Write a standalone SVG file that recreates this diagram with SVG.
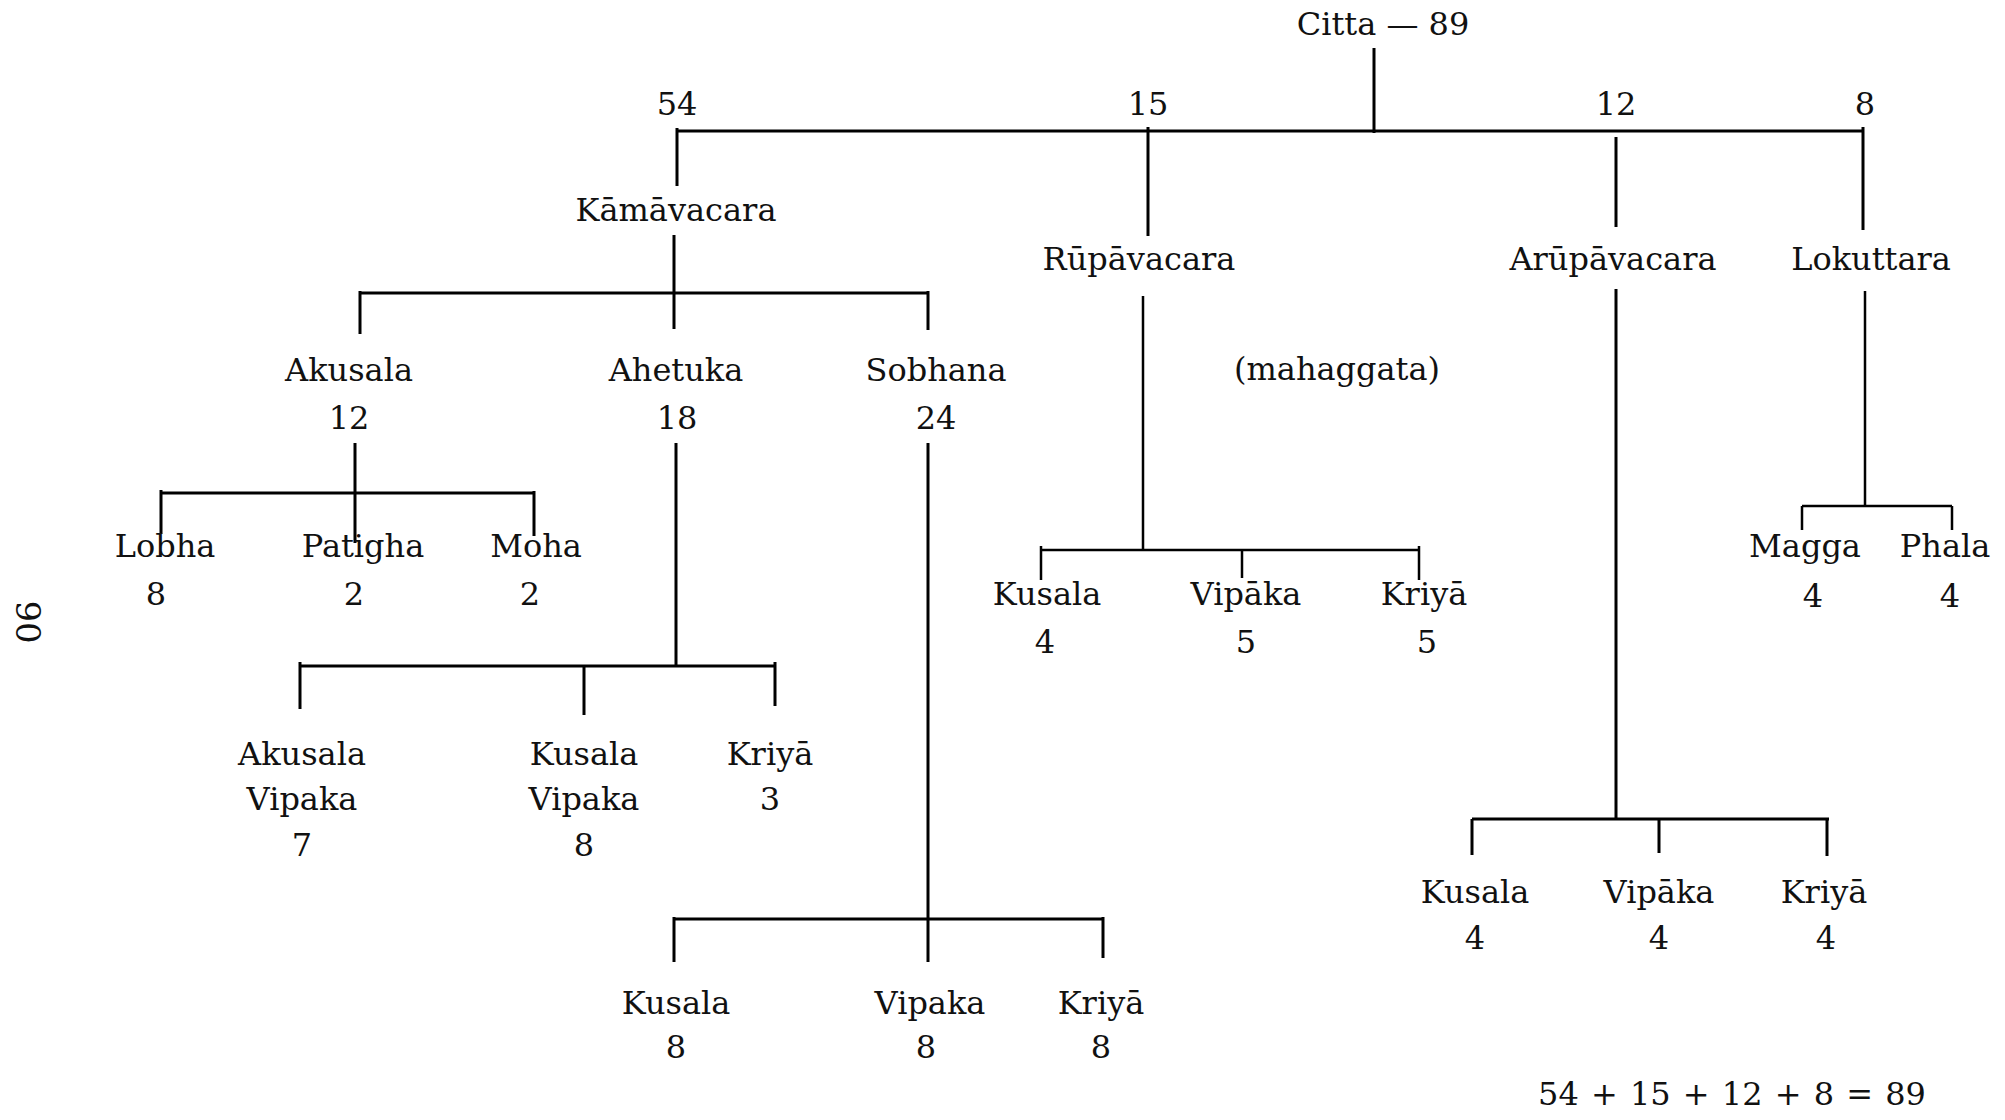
<svg xmlns="http://www.w3.org/2000/svg" width="2005" height="1120" viewBox="0 0 2005 1120">
<style>
text{font-family:"DejaVu Serif","Liberation Serif",serif;font-size:32px;fill:#111;text-anchor:middle}
.ln{stroke:#000;stroke-width:3;fill:none;stroke-linecap:butt}
.th{stroke-width:2.5}
</style>
<rect width="2005" height="1120" fill="#fff"/>
<g id="connectors">
<path class="ln" d="M1374,48V133M677,131H1863M677,128V186M1148,127V236M1616,137V227M1863,127V230"/>
<path class="ln" d="M674,235V329M360,293H928M360,291V334M928,291V330"/>
<path class="ln" d="M355,443V543M161,493H534M161,490V534M534,491V536"/>
<path class="ln" d="M676,443V666M300,666H775M300,662V709M584,666V715M775,662V706"/>
<path class="ln" d="M928,443V919M674,919H1103M674,917V962M928,919V962M1103,917V958"/>
<path class="ln th" d="M1143,296V550M1041,550H1419M1041,546V580M1242,550V578M1419,546V580"/>
<path class="ln" d="M1616,289V819M1472,819H1829M1472,819V855M1659,819V853M1827,819V856"/>
<path class="ln th" d="M1865,291V507M1802,506H1952M1802,506V530M1952,506V530"/>
</g>
<g id="citta"><text x="1383" y="35">Citta — 89</text></g>
<g id="n54"><text x="677" y="115">54</text></g>
<g id="n15"><text x="1148" y="115">15</text></g>
<g id="n12"><text x="1616" y="115">12</text></g>
<g id="n8"><text x="1865" y="115">8</text></g>
<g id="kamavacara"><text x="676" y="221">Kāmāvacara</text></g>
<g id="rupavacara"><text x="1139" y="270">Rūpāvacara</text></g>
<g id="arupavacara"><text x="1613" y="270">Arūpāvacara</text></g>
<g id="lokuttara"><text x="1871" y="270">Lokuttara</text></g>
<g id="mahaggata"><text x="1337" y="380">(mahaggata)</text></g>
<g id="akusala"><text x="349" y="381">Akusala</text><text x="349" y="429">12</text></g>
<g id="ahetuka"><text x="676" y="381">Ahetuka</text><text x="677" y="429">18</text></g>
<g id="sobhana"><text x="936" y="381">Sobhana</text><text x="936" y="429">24</text></g>
<g id="lobha"><text x="165" y="557">Lobha</text><text x="156" y="605">8</text></g>
<g id="patigha"><text x="363" y="557">Patigha</text><text x="354" y="605">2</text></g>
<g id="moha"><text x="536" y="557">Moha</text><text x="530" y="605">2</text></g>
<g id="ak-vipaka"><text x="302" y="765">Akusala</text><text x="302" y="810">Vipaka</text><text x="302" y="856">7</text></g>
<g id="ku-vipaka"><text x="584" y="765">Kusala</text><text x="584" y="810">Vipaka</text><text x="584" y="856">8</text></g>
<g id="ahetuka-kriya"><text x="770" y="765">Kriyā</text><text x="770" y="810">3</text></g>
<g id="sobhana-kusala"><text x="676" y="1014">Kusala</text><text x="676" y="1058">8</text></g>
<g id="sobhana-vipaka"><text x="930" y="1014">Vipaka</text><text x="926" y="1058">8</text></g>
<g id="sobhana-kriya"><text x="1101" y="1014">Kriyā</text><text x="1101" y="1058">8</text></g>
<g id="rupa-kusala"><text x="1047" y="605">Kusala</text><text x="1045" y="653">4</text></g>
<g id="rupa-vipaka"><text x="1246" y="605">Vipāka</text><text x="1246" y="653">5</text></g>
<g id="rupa-kriya"><text x="1424" y="605">Kriyā</text><text x="1427" y="653">5</text></g>
<g id="magga"><text x="1805" y="557">Magga</text><text x="1813" y="607">4</text></g>
<g id="phala"><text x="1945" y="557">Phala</text><text x="1950" y="607">4</text></g>
<g id="arupa-kusala"><text x="1475" y="903">Kusala</text><text x="1475" y="949">4</text></g>
<g id="arupa-vipaka"><text x="1659" y="903">Vipāka</text><text x="1659" y="949">4</text></g>
<g id="arupa-kriya"><text x="1824" y="903">Kriyā</text><text x="1826" y="949">4</text></g>
<g id="equation"><text x="1732" y="1105" style="word-spacing:2px">54 + 15 + 12 + 8 = 89</text></g>
<g id="page"><text transform="translate(28,622) rotate(90)" dominant-baseline="central" style="font-size:34px">90</text></g>
</svg>
